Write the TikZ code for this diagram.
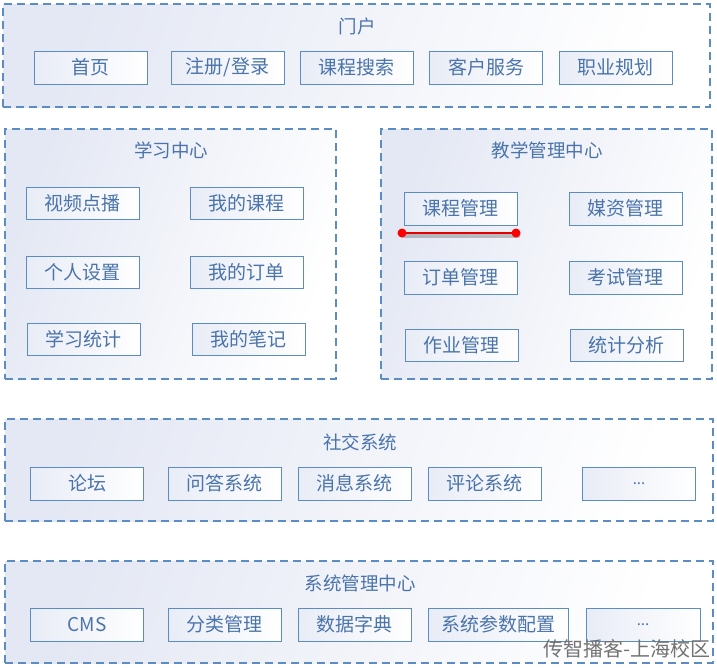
\documentclass[tikz,border=0pt]{standalone}
\usepackage{fontspec}
\setmainfont{Noto Sans CJK SC}
\definecolor{bd}{HTML}{5B8CC4}
\definecolor{tx}{HTML}{4A74AB}
\definecolor{lav}{HTML}{E4E8F4}
\definecolor{blav}{HTML}{E8ECF6}
\tikzset{
  cont/.style={draw=bd, line width=1.1pt, dash pattern=on 8pt off 5pt, left color=lav, right color=white, shading angle=70, inner sep=0pt},
  box/.style={draw=bd, line width=1pt, left color=blav, right color=white, minimum width=113pt, minimum height=32pt, inner sep=0pt, text=tx, font=\fontsize{19}{19}\selectfont},
  ttl/.style={text=tx, font=\fontsize{18.5}{18.5}\selectfont, inner sep=0pt},
}
\begin{document}
\begin{tikzpicture}[x=1pt,y=-1pt]
\useasboundingbox[fill=white] (0,0) rectangle (717,667);
% containers
\node[cont, minimum width=707pt, minimum height=103pt] (portal) at (356.5,55.5) {};
\node[cont, minimum width=331pt, minimum height=250pt] (study) at (170.5,254) {};
\node[cont, minimum width=331pt, minimum height=250pt] (teach) at (546.5,254) {};
\node[cont, minimum width=708pt, minimum height=102pt] (social) at (359,470) {};
\node[cont, minimum width=708pt, minimum height=102pt] (sysm) at (359,612) {};
% titles
\node[ttl] (tportal) at (357,26) {门户};
\node[ttl] (tstudy) at (171,150) {学习中心};
\node[ttl] (tteach) at (547,150) {教学管理中心};
\node[ttl] (tsocial) at (360,442) {社交系统};
\node[ttl] (tsysm) at (360,583) {系统管理中心};
% portal boxes
\node[box, minimum height=33pt] (p1) at (90.5,67.5) {首页};
\node[box, minimum height=33pt] (p2) at (227.5,67.5) {注册/登录};
\node[box, minimum height=33pt] (p3) at (356.5,67.5) {课程搜索};
\node[box, minimum height=33pt] (p4) at (486,67.5) {客户服务};
\node[box, minimum height=33pt] (p5) at (615.5,67.5) {职业规划};
% study boxes
\node[box] (s1) at (82.5,203) {视频点播};
\node[box] (s2) at (246.5,203) {我的课程};
\node[box] (s3) at (82.5,272) {个人设置};
\node[box] (s4) at (246.5,272) {我的订单};
\node[box] (s5) at (83.5,339) {学习统计};
\node[box] (s6) at (248.5,339) {我的笔记};
% teach boxes
\node[box, minimum height=33pt] (t1) at (460.5,208.5) {课程管理};
\node[box, minimum height=33pt] (t2) at (625.5,208.5) {媒资管理};
\node[box, minimum height=33pt] (t3) at (460.5,277.5) {订单管理};
\node[box, minimum height=33pt] (t4) at (625.5,277.5) {考试管理};
\node[box] (t5) at (461.5,345) {作业管理};
\node[box] (t6) at (626.5,345) {统计分析};
% red marker
\coordinate (r1) at (402,233);
\coordinate (r2) at (516,233);
\draw[black, opacity=0.22, line width=5pt, line cap=round, transform canvas={xshift=2pt,yshift=-2.5pt}] (r1) -- (r2);
\draw[red!90!black, line width=2.6pt] (r1) -- (r2);
\fill[red] (r1) circle (4.5pt);
\fill[red] (r2) circle (4.5pt);
% social boxes
\node[box, minimum height=33pt] (c1) at (87,483.5) {论坛};
\node[box, minimum height=33pt] (c2) at (224.5,483.5) {问答系统};
\node[box, minimum height=33pt] (c3) at (354.5,483.5) {消息系统};
\node[box, minimum height=33pt] (c4) at (484.5,483.5) {评论系统};
\node[box, minimum height=33pt, font=\fontsize{15}{15}\selectfont] (c5) at (639,483.5) {...};
% system boxes
\node[box, minimum height=33pt] (m1) at (87,624.5) {CMS};
\node[box, minimum height=33pt] (m2) at (224.5,624.5) {分类管理};
\node[box, minimum height=33pt] (m3) at (354.5,624.5) {数据字典};
\node[box, minimum height=33pt, minimum width=140pt] (m4) at (498,624.5) {系统参数配置};
\node[box, minimum height=33pt, minimum width=114pt, font=\fontsize{15}{15}\selectfont] (m5) at (643,624.5) {...};
% watermark
\node[anchor=east, text=black!55, font=\fontsize{20}{20}\selectfont, inner sep=0pt] (wm) at (711,649) {传智播客-上海校区};
\end{tikzpicture}
\end{document}
